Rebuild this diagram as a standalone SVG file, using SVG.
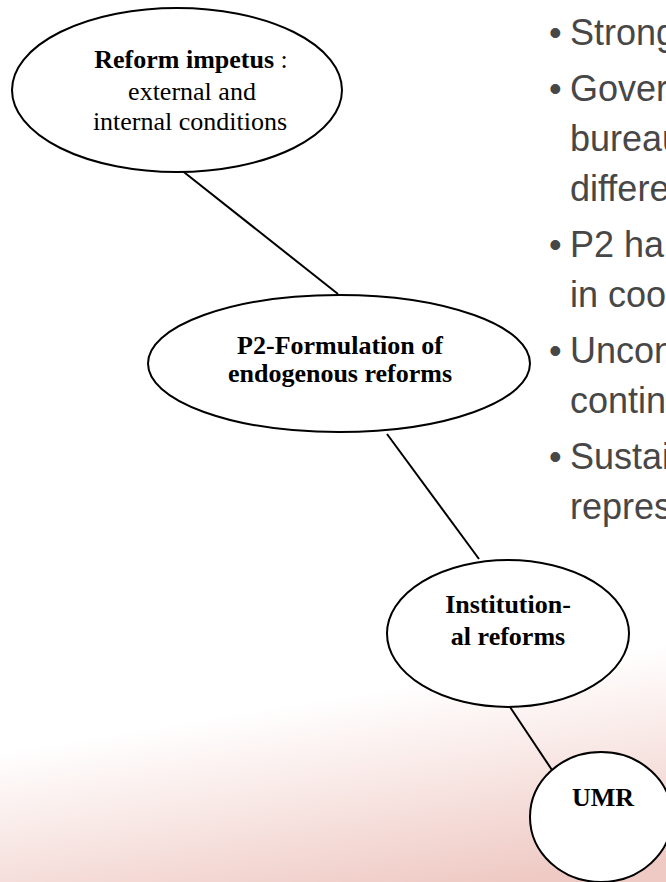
<svg xmlns="http://www.w3.org/2000/svg" width="666" height="882" viewBox="0 0 666 882">
<defs>
<linearGradient id="bg" gradientUnits="userSpaceOnUse" x1="318" y1="700" x2="352" y2="910">
<stop offset="0" stop-color="#ffffff"/>
<stop offset="1" stop-color="#efc9c3"/>
</linearGradient>
<style>
.node{fill:#ffffff;stroke:#000000;stroke-width:2}
.edge{stroke:#000000;stroke-width:2;fill:none}
.lbl{font-family:"Liberation Serif","Times New Roman",serif;font-size:26px;fill:#000000;text-anchor:middle}
.b{font-weight:bold}
.bul{font-family:"Liberation Sans",Arial,sans-serif;font-size:36px;fill:#474747}
</style>
</defs>
<rect x="0" y="0" width="666" height="882" fill="url(#bg)"/>
<g id="bullets" class="bul">
<text x="549" y="45">•</text><text x="570" y="45">Strong</text>
<text x="549" y="101">•</text><text x="570" y="101">Gover</text>
<text x="570" y="151">bureau</text>
<text x="570" y="201">differe</text>
<text x="549" y="257">•</text><text x="570" y="257">P2 ha</text>
<text x="570" y="307">in coo</text>
<text x="549" y="363">•</text><text x="570" y="363">Uncon</text>
<text x="570" y="413">contin</text>
<text x="549" y="469">•</text><text x="570" y="469">Sustai</text>
<text x="570" y="519">repres</text>
</g>
<g id="connectors">
<line class="edge" x1="180" y1="169" x2="338" y2="294"/>
<line class="edge" x1="387" y1="434" x2="479" y2="559"/>
<line class="edge" x1="510" y1="707" x2="552" y2="770"/>
</g>
<g id="reform-impetus">
<ellipse class="node" cx="177" cy="90" rx="165" ry="82"/>
<text class="lbl" x="191" y="68"><tspan class="b">Reform impetus</tspan> :</text>
<text class="lbl" x="192" y="100">external and</text>
<text class="lbl" x="190" y="130">internal conditions</text>
</g>
<g id="p2-formulation">
<ellipse class="node" cx="339" cy="363.5" rx="191" ry="68.5"/>
<text class="lbl b" x="340" y="354">P2-Formulation of</text>
<text class="lbl b" x="340" y="382">endogenous reforms</text>
</g>
<g id="institutional-reforms">
<ellipse class="node" cx="508" cy="633.5" rx="121" ry="73.5"/>
<text class="lbl b" x="508" y="613">Institution-</text>
<text class="lbl b" x="508" y="645">al reforms</text>
</g>
<g id="umr">
<ellipse class="node" cx="601" cy="817" rx="71" ry="65"/>
<text class="lbl b" x="603" y="806">UMR</text>
</g>
</svg>
